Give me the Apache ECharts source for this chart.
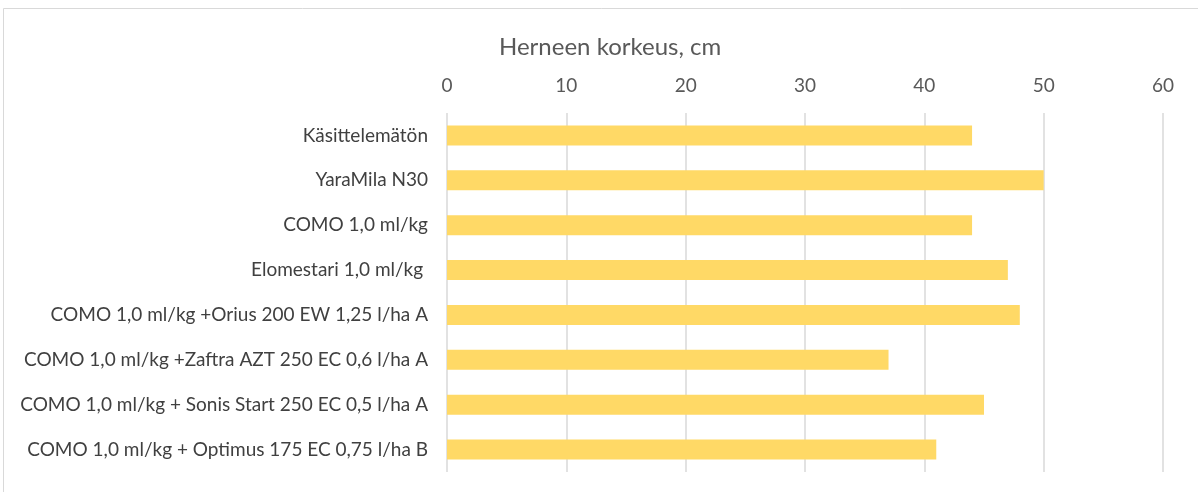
<!DOCTYPE html>
<html>
<head>
<meta charset="utf-8">
<script src="https://cdn.jsdelivr.net/npm/echarts@6/dist/echarts.min.js"></script>
<style>
  html, body { margin: 0; padding: 0; background: #fff; }
  #chart { width: 1198px; height: 492px; }
</style>
</head>
<body>
<div id="chart"></div>
<script>
// Treatments, top to bottom as shown
const treatments = [
    'Käsittelemätön',
    'YaraMila N30',
    'COMO 1,0 ml/kg',
    'Elomestari 1,0 ml/kg ',
    'COMO 1,0 ml/kg +Orius 200 EW 1,25 l/ha A',
    'COMO 1,0 ml/kg +Zaftra AZT 250 EC 0,6 l/ha A',
    'COMO 1,0 ml/kg + Sonis Start 250 EC 0,5 l/ha A',
    'COMO 1,0 ml/kg + Optimus 175 EC 0,75 l/ha B'
];

// Pea height, cm
const heights = [44, 50, 44, 47, 48, 37, 45, 41];

const xTicks = [0, 10, 20, 30, 40, 50, 60];

const font = 'Lato, "Open Sans", sans-serif';

let chart = echarts.init(document.getElementById('chart'));

const option = {
    animation: false,
    backgroundColor: '#fff',
    title: {
        text: 'Herneen korkeus, cm',
        left: 494,
        top: 30,
        textStyle: { fontFamily: font, fontSize: 24, fontWeight: 'normal', color: '#595959' }
    },
    graphic: [{
        type: 'rect',
        shape: { x: 3.5, y: 8.5, width: 1200, height: 500 },
        style: { fill: 'none', stroke: '#D9D9D9', lineWidth: 1 },
        silent: true
    }],
    grid: { left: 447, right: 35, top: 113, bottom: 20 },
    xAxis: {
        type: 'value',
        position: 'top',
        min: xTicks[0],
        max: xTicks[xTicks.length - 1],
        interval: 10,
        axisLine: { show: false },
        axisTick: { show: false },
        axisLabel: { fontFamily: font, fontSize: 19, color: '#595959', margin: 18 },
        splitLine: { lineStyle: { color: '#D9D9D9', width: 1.5 } }
    },
    yAxis: {
        type: 'category',
        inverse: true,
        data: treatments,
        axisLine: { show: false },
        axisTick: { show: false },
        axisLabel: { fontFamily: font, fontSize: 19, color: '#404040', margin: 19 }
    },
    series: [{
        type: 'bar',
        data: heights,
        barWidth: 20,
        itemStyle: { color: '#FFD966' }
    }]
};

chart.setOption(option);
</script>
</body>
</html>
